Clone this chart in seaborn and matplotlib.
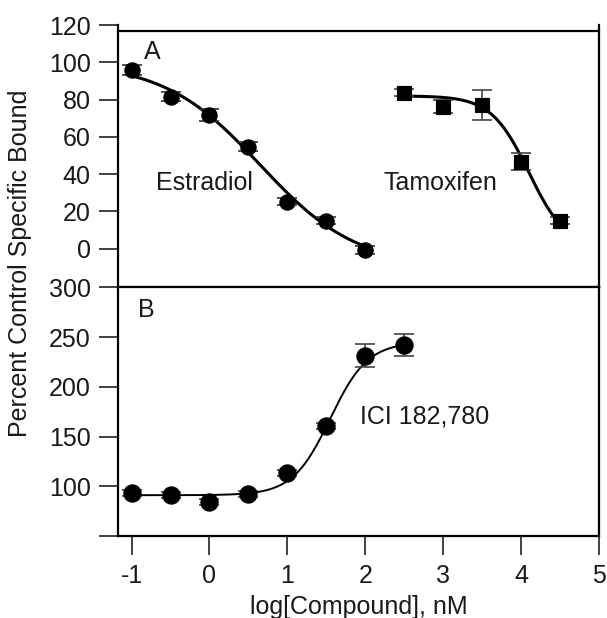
import numpy as np
import pandas as pd
import matplotlib
matplotlib.use("Agg")
import matplotlib.pyplot as plt
import seaborn as sns

# panel A data
estradiol_x = [-1.0, -0.5, 0.0, 0.5, 1.0, 1.5, 2.0]
estradiol_y = [95.9, 81.5, 71.7, 54.7, 25.2, 15.0, -0.7]
estradiol_err = [2.5, 2.5, 3.0, 2.5, 2.0, 2.0, 2.0]

tamoxifen_x = [2.5, 3.0, 3.5, 4.0, 4.5]
tamoxifen_y = [83.7, 76.2, 77.1, 46.7, 15.0]
tamoxifen_err = [2.0, 3.6, 8.0, 4.7, 2.0]

# panel B data
ici_x = [-1.0, -0.5, 0.0, 0.5, 1.0, 1.5, 2.0, 2.5]
ici_y = [93.7, 91.0, 84.0, 92.7, 113.0, 161.0, 231.4, 242.4]
ici_err = [3.0, 3.0, 3.0, 3.0, 3.0, 3.0, 11.5, 11.0]

# fitted 4-parameter logistic curves: bottom, top, logEC50, hill
estradiol_fit = [-10.0, 100.0, 0.65, 0.7]
tamoxifen_fit = [0.0, 82.0, 4.1, 1.8]
ici_fit = [91.0, 245.0, 1.55, 1.8]


def logistic(x, p):
    bottom, top, mid, hill = p
    return bottom + (top - bottom) / (1 + 10 ** ((x - mid) * hill))


def fit_curve(xs, p, rising=False):
    xx = np.linspace(min(xs), max(xs), 200)
    if rising:
        yy = logistic(xx, [p[1], p[0], p[2], p[3]])
    else:
        yy = logistic(xx, p)
    return pd.DataFrame({"x": xx, "y": yy})


sns.set_style("ticks")
plt.rcParams["font.family"] = ["Liberation Sans", "DejaVu Sans"]
plt.rcParams["font.size"] = 18
text_col = "#1a1a1a"

fig = plt.figure(figsize=(6.07, 6.18), dpi=100)
left, right = 0.1949, 0.9868
ax1 = fig.add_axes([left, 0.5351, right - left, 0.9595 - 0.5351])
ax2 = fig.add_axes([left, 0.1327, right - left, 0.5351 - 0.1327], sharex=ax1)

# ---- panel A
est = pd.DataFrame({"x": estradiol_x, "y": estradiol_y})
tam = pd.DataFrame({"x": tamoxifen_x, "y": tamoxifen_y})
sns.lineplot(data=fit_curve(estradiol_x, estradiol_fit), x="x", y="y", ax=ax1,
             color="black", lw=2.2)
sns.lineplot(data=fit_curve(tamoxifen_x, tamoxifen_fit), x="x", y="y", ax=ax1,
             color="black", lw=2.2)
ax1.errorbar(estradiol_x, estradiol_y, yerr=estradiol_err, fmt="none",
             ecolor="#333333", elinewidth=1.2, capsize=7, capthick=1.2, zorder=3)
ax1.errorbar(tamoxifen_x, tamoxifen_y, yerr=tamoxifen_err, fmt="none",
             ecolor="#444444", elinewidth=1.2, capsize=7, capthick=1.2, zorder=3)
sns.scatterplot(data=est, x="x", y="y", ax=ax1, marker="o", s=120,
                color="black", edgecolor="black", zorder=4)
sns.scatterplot(data=tam, x="x", y="y", ax=ax1, marker="s", s=110,
                color="black", edgecolor="black", zorder=4)

ax1.text(-0.74, 105.7, "A", ha="center", va="center", color=text_col)
ax1.text(-0.06, 35, "Estradiol", ha="center", va="center", color=text_col)
ax1.text(2.96, 35, "Tamoxifen", ha="center", va="center", color=text_col)

ax1.set_ylim(-20.7, 120)
ax1.set_yticks([0, 20, 40, 60, 80, 100, 120])
ax1.spines["top"].set_position(("data", 116.9))
ax1.tick_params(axis="x", which="both", bottom=False, labelbottom=False)
ax1.set_xlabel("")
ax1.set_ylabel("")

# ---- panel B
ici = pd.DataFrame({"x": ici_x, "y": ici_y})
sns.lineplot(data=fit_curve(ici_x, ici_fit, rising=True), x="x", y="y", ax=ax2,
             color="black", lw=1.4)
ax2.errorbar(ici_x, ici_y, yerr=ici_err, fmt="none", ecolor="#444444",
             elinewidth=1.2, capsize=7, capthick=1.2, zorder=3)
sns.scatterplot(data=ici, x="x", y="y", ax=ax2, marker="o", s=150,
                color="black", edgecolor="black", zorder=4)

ax2.text(-0.81, 277.6, "B", ha="center", va="center", color=text_col)
ax2.text(1.93, 170, "ICI 182,780", ha="left", va="center", color=text_col)

ax2.set_ylim(50, 300)
ax2.set_yticks([50, 100, 150, 200, 250, 300])
ax2.set_yticklabels(["", "100", "150", "200", "250", "300"])
ax2.set_xlim(-1.17, 5)
ax2.set_xticks([-1, 0, 1, 2, 3, 4, 5])
ax2.set_xticklabels(["-1", "0", "1", "2", "3", "4", "5"])
ax2.set_xlabel("log[Compound], nM", color=text_col, labelpad=5)
ax2.set_ylabel("")

for ax in (ax1, ax2):
    for sp in ax.spines.values():
        sp.set_visible(True)
        sp.set_linewidth(1.6)
        sp.set_color("black")
    ax.tick_params(direction="out", length=14, width=1.3, color="#333333",
                   labelcolor=text_col, labelsize=18, pad=6)

fig.text(0.033, 0.574, "Percent Control Specific Bound", rotation=90,
         ha="center", va="center", color=text_col, fontsize=18)

fig.savefig("out.png", dpi=100, facecolor="white")
